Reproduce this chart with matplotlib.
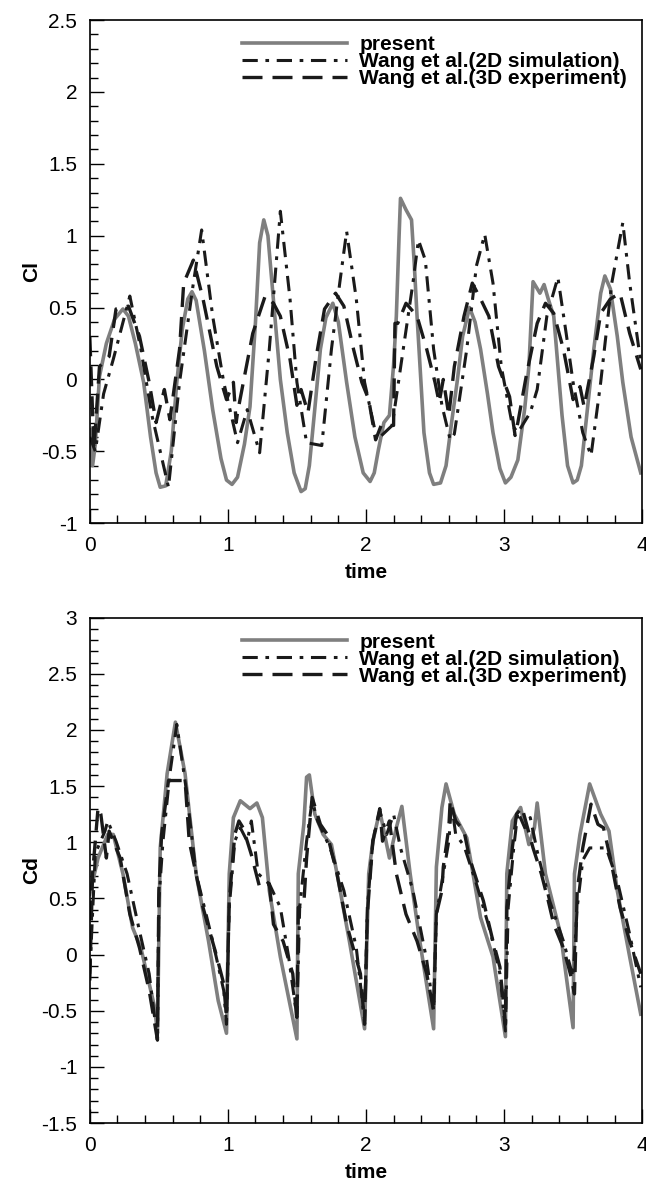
import matplotlib
matplotlib.use("Agg")
import matplotlib.pyplot as plt
from matplotlib.ticker import MultipleLocator

plt.rcParams['font.family'] = ['Liberation Sans', 'DejaVu Sans']

# -------------------------------
# Cl data
# -------------------------------
cl_present_t = [0.0, 0.02, 0.04, 0.07, 0.12, 0.18, 0.24, 0.28, 0.33, 0.39, 0.44, 0.48, 0.51, 0.55,
                0.59, 0.63, 0.67, 0.71, 0.74, 0.77, 0.83, 0.89, 0.95, 0.99, 1.03, 1.07, 1.12, 1.16,
                1.20, 1.23, 1.26, 1.29, 1.34, 1.38, 1.43, 1.48, 1.53, 1.56, 1.59, 1.63, 1.67, 1.71,
                1.76, 1.80, 1.86, 1.92, 1.98, 2.03, 2.06, 2.09, 2.13, 2.17, 2.20, 2.22, 2.24, 2.25,
                2.29, 2.33, 2.35, 2.37, 2.42, 2.46, 2.49, 2.54, 2.58, 2.62, 2.66, 2.70, 2.75, 2.79,
                2.83, 2.88, 2.92, 2.97, 3.01, 3.05, 3.10, 3.15, 3.18, 3.21, 3.26, 3.29, 3.32, 3.36,
                3.42, 3.46, 3.50, 3.53, 3.56, 3.61, 3.65, 3.70, 3.73, 3.77, 3.82, 3.86, 3.92, 3.99]
cl_present = [-0.35, -0.6, -0.45, 0.02, 0.25, 0.42, 0.49, 0.44, 0.25, -0.02, -0.4, -0.65, -0.75, -0.74,
              -0.5, -0.02, 0.35, 0.56, 0.61, 0.55, 0.2, -0.21, -0.55, -0.7, -0.73, -0.68, -0.45, -0.19,
              0.4, 0.95, 1.11, 1.0, 0.44, 0.0, -0.37, -0.65, -0.78, -0.76, -0.6, -0.2, 0.21, 0.43,
              0.53, 0.4, -0.02, -0.4, -0.65, -0.71, -0.65, -0.49, -0.3, -0.25, 0.1, 0.44, 1.0, 1.26,
              1.18, 1.11, 0.8, 0.44, -0.37, -0.65, -0.73, -0.72, -0.6, -0.3, -0.02, 0.3, 0.50, 0.4,
              0.21, -0.1, -0.37, -0.62, -0.72, -0.68, -0.56, -0.2, 0.09, 0.68, 0.60, 0.66, 0.56, 0.44,
              -0.25, -0.6, -0.72, -0.7, -0.6, -0.15, 0.21, 0.6, 0.72, 0.63, 0.3, -0.02, -0.4, -0.65]

cl_2d_t = [0.0, 0.04, 0.1, 0.17, 0.29, 0.37, 0.45, 0.57, 0.65, 0.75, 0.81, 0.89, 0.97, 1.07, 1.14,
           1.23, 1.30, 1.38, 1.45, 1.50, 1.57, 1.68, 1.75, 1.81, 1.86, 1.93, 1.99, 2.08, 2.19, 2.27,
           2.34, 2.38, 2.43, 2.49, 2.55, 2.61, 2.64, 2.73, 2.80, 2.86, 2.92, 2.98, 3.06, 3.10, 3.19,
           3.24, 3.31, 3.39, 3.45, 3.50, 3.57, 3.63, 3.70, 3.78, 3.86, 3.91, 3.99]
cl_2d = [-0.4, -0.5, -0.1, 0.14, 0.58, 0.21, -0.25, -0.75, -0.02, 0.67, 1.04, 0.44, -0.02, -0.44, -0.21,
         -0.51, 0.21, 1.17, 0.56, -0.02, -0.44, -0.46, 0.21, 0.67, 1.03, 0.56, -0.02, -0.42, -0.32, 0.21,
         0.67, 0.97, 0.83, 0.21, -0.18, -0.42, -0.38, 0.21, 0.79, 1.01, 0.67, 0.09, -0.32, -0.37, -0.23,
         -0.07, 0.44, 0.71, 0.32, -0.02, -0.37, -0.53, -0.02, 0.67, 1.09, 0.67, 0.12]

cl_3d_t = [0.0, 0.03, 0.07, 0.14, 0.19, 0.28, 0.36, 0.43, 0.48, 0.54, 0.58, 0.65, 0.68, 0.75, 0.82,
           0.92, 0.99, 1.04, 1.06, 1.07, 1.18, 1.27, 1.33, 1.38, 1.45, 1.50, 1.53, 1.58, 1.64, 1.70,
           1.78, 1.84, 1.91, 1.97, 2.02, 2.07, 2.11, 2.20, 2.21, 2.23, 2.29, 2.37, 2.44, 2.50, 2.53,
           2.56, 2.60, 2.64, 2.71, 2.77, 2.83, 2.89, 2.96, 3.04, 3.08, 3.10, 3.16, 3.24, 3.30, 3.36,
           3.43, 3.50, 3.55, 3.58, 3.65, 3.70, 3.77, 3.84, 3.91, 3.99]
cl_3d = [0.3, -0.49, 0.09, 0.16, 0.49, 0.51, 0.30, -0.02, -0.30, -0.07, -0.28, 0.21, 0.67, 0.83, 0.56,
         0.09, -0.14, -0.02, -0.30, -0.23, 0.32, 0.58, 0.53, 0.44, 0.14, -0.18, -0.07, -0.23, 0.16, 0.49,
         0.60, 0.51, 0.21, -0.02, -0.14, -0.42, -0.32, -0.32, 0.39, 0.39, 0.53, 0.44, 0.21, -0.02, -0.16,
         0.0, -0.25, 0.09, 0.44, 0.67, 0.56, 0.44, 0.09, -0.12, -0.39, -0.3, 0.02, 0.39, 0.53, 0.46,
         0.21, -0.14, -0.05, -0.19, 0.16, 0.46, 0.56, 0.60, 0.32, 0.07]

# -------------------------------
# Cd data
# -------------------------------
cd_present_t = [0.0, 0.06, 0.13, 0.17, 0.24, 0.31, 0.37, 0.47, 0.49, 0.51, 0.56, 0.62, 0.69, 0.77,
                0.86, 0.93, 0.99, 1.01, 1.04, 1.09, 1.16, 1.21, 1.25, 1.30, 1.38, 1.50, 1.51, 1.55,
                1.57, 1.59, 1.63, 1.69, 1.75, 1.80, 1.88, 1.99, 2.02, 2.05, 2.10, 2.17, 2.22, 2.26,
                2.32, 2.39, 2.49, 2.51, 2.55, 2.58, 2.64, 2.73, 2.83, 2.92, 3.01, 3.02, 3.06, 3.12,
                3.18, 3.22, 3.24, 3.30, 3.41, 3.50, 3.51, 3.55, 3.62, 3.70, 3.76, 3.82, 3.91, 3.99]
cd_present = [0.54, 0.86, 1.07, 1.07, 0.72, 0.24, 0.06, -0.47, -0.70, 0.95, 1.61, 2.07, 1.61, 0.72,
              0.12, -0.41, -0.70, 0.72, 1.22, 1.37, 1.30, 1.35, 1.22, 0.57, -0.02, -0.75, 0.72, 1.16,
              1.58, 1.60, 1.25, 1.07, 0.98, 0.66, 0.12, -0.66, 0.72, 1.01, 1.28, 0.86, 1.13, 1.32,
              0.72, 0.12, -0.66, 0.78, 1.31, 1.52, 1.25, 1.04, 0.33, -0.02, -0.73, 0.72, 1.19, 1.31,
              0.98, 1.13, 1.35, 0.72, 0.18, -0.65, 0.72, 1.07, 1.52, 1.25, 1.10, 0.57, -0.02, -0.53]

cd_2d_t = [0.0, 0.04, 0.11, 0.13, 0.19, 0.27, 0.36, 0.43, 0.49, 0.50, 0.53, 0.58, 0.63, 0.70, 0.77,
           0.89, 0.97, 0.99, 1.01, 1.05, 1.09, 1.14, 1.17, 1.22, 1.30, 1.38, 1.44, 1.50, 1.52, 1.57,
           1.61, 1.65, 1.74, 1.84, 1.93, 1.99, 2.01, 2.05, 2.10, 2.15, 2.20, 2.25, 2.34, 2.44, 2.49,
           2.51, 2.56, 2.60, 2.62, 2.65, 2.71, 2.80, 2.90, 2.97, 3.01, 3.03, 3.07, 3.10, 3.15, 3.19,
           3.24, 3.33, 3.43, 3.50, 3.53, 3.57, 3.62, 3.74, 3.82, 3.91, 3.99]
cd_2d = [-0.17, 0.9, 1.1, 1.19, 1.01, 0.72, 0.21, -0.17, -0.76, 0.48, 1.01, 1.61, 2.05, 1.46, 0.72,
         0.12, -0.32, -0.62, 0.42, 1.01, 1.13, 1.01, 1.19, 0.72, 0.63, 0.42, -0.02, -0.56, 0.42, 1.01,
         1.37, 1.19, 0.95, 0.57, 0.06, -0.59, 0.42, 1.01, 1.28, 1.07, 1.25, 0.95, 0.57, -0.05, -0.50,
         0.36, 0.72, 1.01, 1.34, 1.07, 0.97, 0.63, 0.21, -0.17, -0.68, 0.42, 0.95, 1.27, 1.13, 1.22,
         0.92, 0.48, 0.12, -0.2, 0.42, 0.84, 0.95, 0.95, 0.66, 0.18, -0.29]

cd_3d_t = [0.0, 0.02, 0.06, 0.08, 0.12, 0.14, 0.22, 0.29, 0.36, 0.43, 0.49, 0.50, 0.52, 0.57, 0.60,
           0.69, 0.72, 0.82, 0.92, 0.97, 0.99, 1.01, 1.05, 1.08, 1.11, 1.17, 1.23, 1.30, 1.33, 1.40,
           1.47, 1.50, 1.51, 1.55, 1.57, 1.61, 1.67, 1.72, 1.79, 1.86, 1.96, 1.99, 2.01, 2.05, 2.10,
           2.12, 2.17, 2.22, 2.29, 2.37, 2.44, 2.49, 2.51, 2.55, 2.56, 2.60, 2.61, 2.65, 2.71, 2.75,
           2.85, 2.92, 2.97, 3.01, 3.02, 3.06, 3.09, 3.13, 3.17, 3.21, 3.27, 3.32, 3.36, 3.43, 3.48,
           3.51, 3.53, 3.57, 3.63, 3.68, 3.72, 3.77, 3.84, 3.91, 3.99]
cd_3d = [-0.23, 0.72, 1.31, 1.25, 0.86, 1.1, 0.86, 0.36, 0.06, -0.32, -0.76, 0.57, 1.07, 1.55, 1.55,
         1.55, 1.01, 0.42, -0.02, -0.26, -0.56, 0.48, 1.07, 1.19, 1.13, 0.89, 0.60, 0.63, 0.27, 0.12,
         -0.17, -0.59, 0.42, 0.45, 0.86, 1.40, 1.16, 1.07, 0.72, 0.27, -0.17, -0.62, 0.36, 1.01, 1.30,
         1.01, 1.19, 0.72, 0.36, 0.12, -0.17, -0.50, 0.36, 0.57, 0.78, 1.13, 1.37, 1.19, 1.10, 0.86,
         0.48, 0.12, -0.11, -0.62, 0.42, 0.95, 1.25, 1.31, 1.13, 0.95, 0.72, 0.48, 0.27, 0.06, -0.17,
         -0.35, 0.57, 0.95, 1.34, 1.16, 1.13, 0.86, 0.42, 0.12, -0.17]

labels = ["present", "Wang et al.(2D simulation)", "Wang et al.(3D experiment)"]


def style_axes(ax, ylabel, ylim):
    ax.set_xlim(0, 4)
    ax.set_ylim(*ylim)
    ax.xaxis.set_major_locator(MultipleLocator(1))
    ax.xaxis.set_minor_locator(MultipleLocator(0.2))
    ax.yaxis.set_major_locator(MultipleLocator(0.5))
    ax.yaxis.set_minor_locator(MultipleLocator(0.1))
    ax.tick_params(which="both", direction="in", top=False, right=False, labelsize=15, pad=9)
    ax.tick_params(which="major", length=10, width=1)
    ax.tick_params(which="minor", length=6, width=1)
    ax.set_xlabel("time", fontsize=15, fontweight="bold", labelpad=6)
    ax.set_ylabel(ylabel, fontsize=15, fontweight="bold", labelpad=0)
    ax.yaxis.set_major_formatter(plt.FuncFormatter(lambda v, p: f"{v:g}"))
    for s in ax.spines.values():
        s.set_linewidth(1.2)
    ax.legend(loc="upper right", bbox_to_anchor=(0.995, 0.995), frameon=False,
              handlelength=5.0, labelspacing=-0.1, handletextpad=0.6, borderaxespad=0.2,
              prop={"weight": "bold", "size": 15})


fig = plt.figure(figsize=(6.46, 11.81), dpi=100)
ax1 = fig.add_axes([0.139, 0.557, 0.855, 0.426])
ax2 = fig.add_axes([0.139, 0.049, 0.855, 0.428])

for ax, (pt, py), (dt, dy), (et, ey) in [
    (ax1, (cl_present_t, cl_present), (cl_2d_t, cl_2d), (cl_3d_t, cl_3d)),
    (ax2, (cd_present_t, cd_present), (cd_2d_t, cd_2d), (cd_3d_t, cd_3d)),
]:
    ax.plot(pt, py, color="#7f7f7f", lw=2.6, label=labels[0])
    ax.plot(dt, dy, color="#1a1a1a", lw=2.2, dashes=(5, 2.5, 1.2, 2.5), label=labels[1])
    ax.plot(et, ey, color="#1a1a1a", lw=2.4, dashes=(6, 3), label=labels[2])

style_axes(ax1, "Cl", (-1, 2.5))
style_axes(ax2, "Cd", (-1.5, 3))

fig.savefig("out.png", dpi=100)
